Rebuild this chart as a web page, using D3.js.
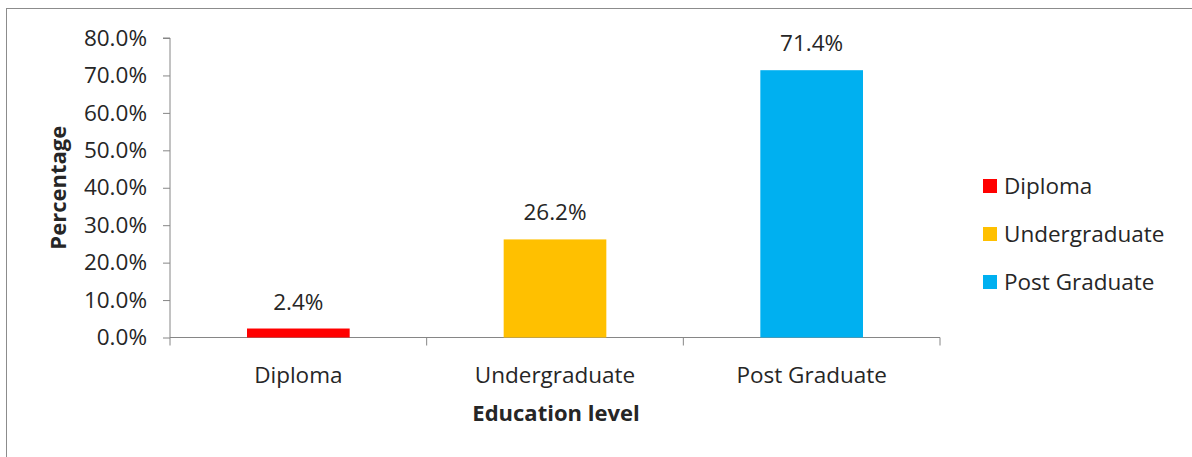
<!DOCTYPE html>
<html>
<head>
<meta charset="utf-8">
<script src="https://cdn.jsdelivr.net/npm/d3@7"></script>
<style>
  html, body { margin: 0; padding: 0; background: #fff; }
  svg { display: block; }
  text { font-family: "Open Sans", "Noto Sans", sans-serif; fill: #262626; }
</style>
</head>
<body>
<svg id="chart" width="1192" height="457"></svg>
<script>
// Share of respondents by education level
const categories = ["Diploma", "Undergraduate", "Post Graduate"];
const values = [2.4, 26.2, 71.4];
const colors = ["#FF0000", "#FFC000", "#00B0F0"];
const yTicks = [0, 10, 20, 30, 40, 50, 60, 70, 80];

const svg = d3.select("#chart");
const W = 1192, H = 457;
const FS = 22.5;

// chart area frame
svg.append("rect")
  .attr("x", 6.5).attr("y", 8.5)
  .attr("width", W + 20).attr("height", H + 20)
  .attr("fill", "none").attr("stroke", "#8c8c8c").attr("stroke-width", 1);

const plot = { left: 170, right: 940, top: 38, bottom: 337.5 };

const x = d3.scaleBand()
  .domain(categories)
  .range([plot.left, plot.right])
  .paddingInner(0.6)
  .paddingOuter(0.3);

const y = d3.scaleLinear()
  .domain([0, 80])
  .range([plot.bottom, plot.top]);

const fmt = d => d.toFixed(1) + "%";

// y axis
const yAxis = svg.append("g")
  .attr("transform", `translate(${plot.left},0)`)
  .call(d3.axisLeft(y).tickValues(yTicks).tickFormat(fmt).tickSize(7).tickPadding(16));
yAxis.select(".domain").attr("stroke", "#868686").attr("d", `M-7,${plot.top}H0V${plot.bottom}`);
yAxis.selectAll(".tick line").attr("stroke", "#868686");
yAxis.selectAll(".tick text")
  .attr("font-size", FS).attr("fill", "#262626")
  .attr("font-family", "'Open Sans', sans-serif");

// x axis with boundary ticks between categories
const xAxisG = svg.append("g").attr("transform", `translate(0,${plot.bottom})`);
xAxisG.append("line")
  .attr("x1", plot.left).attr("x2", plot.right)
  .attr("y1", 0).attr("y2", 0)
  .attr("stroke", "#868686");
const step = (plot.right - plot.left) / categories.length;
d3.range(categories.length + 1).forEach(i => {
  xAxisG.append("line")
    .attr("x1", plot.left + i * step).attr("x2", plot.left + i * step)
    .attr("y1", 0).attr("y2", 8)
    .attr("stroke", "#868686");
});
xAxisG.selectAll("text.cat")
  .data(categories)
  .join("text")
  .attr("class", "cat")
  .attr("x", d => x(d) + x.bandwidth() / 2)
  .attr("y", 45)
  .attr("text-anchor", "middle")
  .attr("font-size", FS)
  .text(d => d);

// bars
svg.selectAll("rect.bar")
  .data(categories)
  .join("rect")
  .attr("class", "bar")
  .attr("x", d => x(d))
  .attr("width", x.bandwidth())
  .attr("y", (d, i) => y(values[i]))
  .attr("height", (d, i) => plot.bottom - y(values[i]))
  .attr("fill", (d, i) => colors[i]);

// value labels
svg.selectAll("text.val")
  .data(categories)
  .join("text")
  .attr("class", "val")
  .attr("x", d => x(d) + x.bandwidth() / 2)
  .attr("y", (d, i) => y(values[i]) - 19)
  .attr("text-anchor", "middle")
  .attr("font-size", FS)
  .text((d, i) => fmt(values[i]));

// axis titles
svg.append("text")
  .attr("x", (plot.left + plot.right) / 2 + 1)
  .attr("y", 421)
  .attr("text-anchor", "middle")
  .attr("font-size", 22)
  .attr("font-weight", "bold")
  .attr("fill", "#000")
  .text("Education level");

svg.append("text")
  .attr("transform", `translate(66,${(plot.top + plot.bottom) / 2}) rotate(-90)`)
  .attr("text-anchor", "middle")
  .attr("font-size", 22)
  .attr("font-weight", "bold")
  .attr("fill", "#000")
  .text("Percentage");

// legend
const legend = svg.append("g").attr("transform", "translate(983,186)");
const rowH = 48;
categories.forEach((c, i) => {
  const g = legend.append("g").attr("transform", `translate(0,${i * rowH})`);
  g.append("rect")
    .attr("x", 0).attr("y", -7)
    .attr("width", 14).attr("height", 14)
    .attr("fill", colors[i]);
  g.append("text")
    .attr("x", 21).attr("y", 8)
    .attr("font-size", FS)
    .text(c);
});
</script>
</body>
</html>
